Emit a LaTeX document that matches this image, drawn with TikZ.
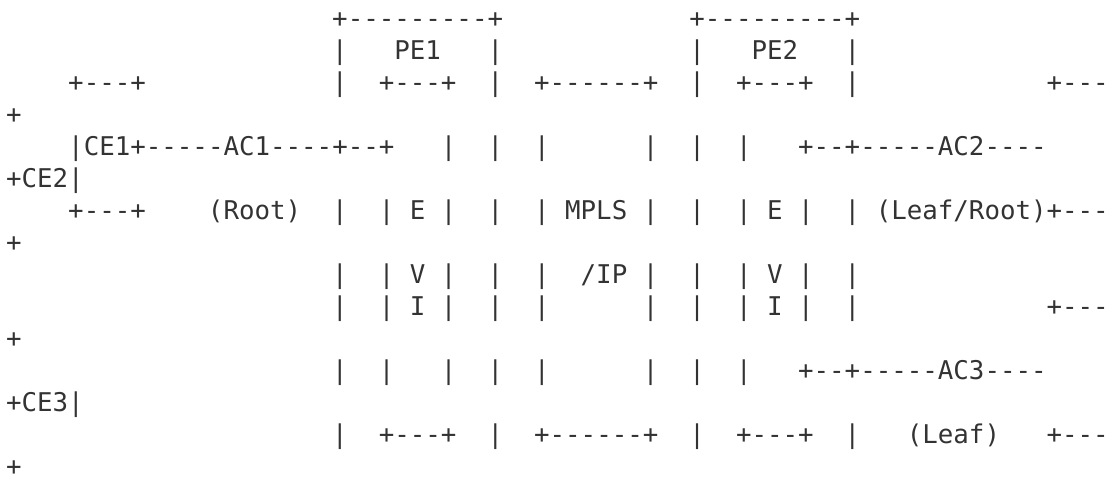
\documentclass[tikz,border=0pt]{standalone}
\usepackage{fontspec}
\setmonofont{DejaVu Sans Mono}
\definecolor{texto}{HTML}{333333}
\tikzset{
  ascii/.style={
    anchor=base west,
    inner sep=0pt,
    outer sep=0pt,
    text=texto,
    font=\ttfamily\fontsize{25.8}{30}\selectfont
  }
}
\begin{document}
\begin{tikzpicture}[
    x=15.53pt,
    y=-32pt
    ]

    \useasboundingbox (-6.1pt,-4.5pt) rectangle (1107.9pt,-485.5pt);

    % topo das caixas PE
    \foreach \c/\t in {21/{+---------+}, 44/{+---------+}}
    \node[ascii] (l1c\c) at (\c,1) {\t};

    \foreach \c/\t in {21/|, 25/PE1, 31/|, 44/|, 48/PE2, 54/|}
    \node[ascii] (l2c\c) at (\c,2) {\t};

    \foreach \c/\t in {4/{+---+}, 21/|, 24/{+---+}, 31/|, 34/{+------+},
      44/|, 47/{+---+}, 54/|, 67/{+---}}
    \node[ascii] (l3c\c) at (\c,3) {\t};

    \node[ascii] (l4c0) at (0,4) {+};

    % CE1, AC1 e AC2
    \foreach \c/\t in {4/{|CE1+-----AC1----+--+}, 28/|, 31/|, 34/|, 41/|,
      44/|, 47/|, 51/{+--+-----AC2----}}
    \node[ascii] (l5c\c) at (\c,5) {\t};

    \node[ascii] (l6c0) at (0,6) {+CE2|};

    % EVI e MPLS
    \foreach \c/\t in {4/{+---+}, 13/{(Root)}, 21/|, 24/|, 26/E, 28/|, 31/|,
      34/|, 36/MPLS, 41/|, 44/|, 47/|, 49/E, 51/|, 54/|, 56/{(Leaf/Root)+---}}
    \node[ascii] (l7c\c) at (\c,7) {\t};

    \node[ascii] (l8c0) at (0,8) {+};

    \foreach \c/\t in {21/|, 24/|, 26/V, 28/|, 31/|, 34/|, 37/{/IP}, 41/|,
      44/|, 47/|, 49/V, 51/|, 54/|}
    \node[ascii] (l9c\c) at (\c,9) {\t};

    \foreach \c/\t in {21/|, 24/|, 26/I, 28/|, 31/|, 34/|, 41/|,
      44/|, 47/|, 49/I, 51/|, 54/|, 67/{+---}}
    \node[ascii] (l10c\c) at (\c,10) {\t};

    \node[ascii] (l11c0) at (0,11) {+};

    % AC3
    \foreach \c/\t in {21/|, 24/|, 28/|, 31/|, 34/|, 41/|, 44/|, 47/|,
      51/{+--+-----AC3----}}
    \node[ascii] (l12c\c) at (\c,12) {\t};

    \node[ascii] (l13c0) at (0,13) {+CE3|};

    % base das caixas
    \foreach \c/\t in {21/|, 24/{+---+}, 31/|, 34/{+------+}, 44/|,
      47/{+---+}, 54/|, 58/{(Leaf)}, 67/{+---}}
    \node[ascii] (l14c\c) at (\c,14) {\t};

    \node[ascii] (l15c0) at (0,15) {+};

\end{tikzpicture}
\end{document}
